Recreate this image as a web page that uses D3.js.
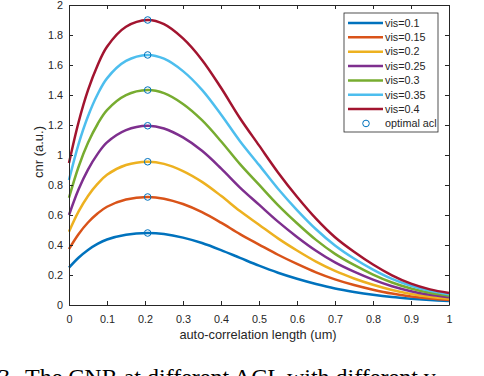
<!DOCTYPE html>
<html>
<head>
<meta charset="utf-8">
<script src="https://cdn.jsdelivr.net/npm/d3@7/dist/d3.min.js"></script>
<style>
	html, body { margin: 0; padding: 0; background: #fff; }
	svg { display: block; font-family: "Liberation Sans", Arial, sans-serif; }
	.axis path, .axis line { stroke: #262626; }
	.axis text { fill: #262626; font-size: 10.8px; }
</style>
</head>
<body>
<div class="chart"></div>
<script>
// acl sample positions (um)
var acl = [0, 0.025, 0.05, 0.075, 0.1, 0.15, 0.207, 0.25, 0.3, 0.35, 0.4, 0.45, 0.5, 0.55, 0.6, 0.65, 0.7, 0.75, 0.8, 0.85, 0.9, 0.95, 1];

var seriesNames = ['vis=0.1', 'vis=0.15', 'vis=0.2', 'vis=0.25', 'vis=0.3', 'vis=0.35', 'vis=0.4'];

// cnr, one list per visibility
var cnr01 = [0.249, 0.315, 0.367, 0.407, 0.437, 0.469, 0.480, 0.473, 0.449, 0.413, 0.366, 0.314, 0.262, 0.215, 0.175, 0.140, 0.110, 0.087, 0.068, 0.053, 0.042, 0.033, 0.026];
var cnr015 = [0.373, 0.472, 0.550, 0.610, 0.655, 0.703, 0.720, 0.709, 0.673, 0.619, 0.549, 0.472, 0.403, 0.335, 0.274, 0.218, 0.171, 0.133, 0.102, 0.076, 0.057, 0.043, 0.033];
var cnr02 = [0.489, 0.622, 0.727, 0.807, 0.868, 0.933, 0.955, 0.941, 0.893, 0.821, 0.728, 0.626, 0.535, 0.444, 0.363, 0.289, 0.227, 0.177, 0.135, 0.100, 0.074, 0.055, 0.042];
var cnr025 = [0.600, 0.770, 0.903, 1.006, 1.084, 1.166, 1.195, 1.177, 1.117, 1.028, 0.911, 0.783, 0.669, 0.556, 0.454, 0.362, 0.284, 0.222, 0.169, 0.125, 0.092, 0.068, 0.052];
var cnr03 = [0.715, 0.920, 1.081, 1.205, 1.299, 1.399, 1.433, 1.412, 1.340, 1.232, 1.092, 0.939, 0.802, 0.666, 0.545, 0.434, 0.341, 0.267, 0.203, 0.150, 0.110, 0.081, 0.062];
var cnr035 = [0.833, 1.071, 1.258, 1.403, 1.511, 1.627, 1.667, 1.642, 1.559, 1.434, 1.270, 1.092, 0.934, 0.775, 0.633, 0.505, 0.397, 0.310, 0.236, 0.174, 0.128, 0.094, 0.072];
var cnr04 = [0.947, 1.217, 1.432, 1.597, 1.722, 1.855, 1.900, 1.872, 1.777, 1.634, 1.448, 1.245, 1.064, 0.884, 0.722, 0.576, 0.452, 0.355, 0.270, 0.198, 0.142, 0.104, 0.080];

// optimal acl markers
var optAcl = [0.207, 0.207, 0.207, 0.207, 0.207, 0.207, 0.207];
var optCnr = [0.480, 0.720, 0.955, 1.195, 1.433, 1.667, 1.900];

var xTicks = [0, 0.1, 0.2, 0.3, 0.4, 0.5, 0.6, 0.7, 0.8, 0.9, 1];
var yTicks = [0, 0.2, 0.4, 0.6, 0.8, 1, 1.2, 1.4, 1.6, 1.8, 2];

var chart = (function(d3, undefined) {
	var width = 484,
	    height = 376,
	    plot = { left: 69, right: 449, top: 5, bottom: 305 };

	var colors = ['#0072BD', '#D95319', '#EDB120', '#7E2F8E', '#77AC30', '#4DBEEE', '#A2142F'],
	    axisColor = '#262626';

	var series = [cnr01, cnr015, cnr02, cnr025, cnr03, cnr035, cnr04];

	var x = d3.scaleLinear().domain([0, 1]).range([plot.left, plot.right]);
	var y = d3.scaleLinear().domain([0, 2]).range([plot.bottom, plot.top]);

	var fmt = function(d) { return String(+d.toFixed(1)); };

	var svg = d3.select('.chart').append('svg')
		.attr('width', width)
		.attr('height', height);

	svg.append('rect')
		.attr('width', width)
		.attr('height', height)
		.attr('fill', '#fff');

	// curves
	var line = d3.line()
		.x(function(d, i) { return x(acl[i]); })
		.y(function(d) { return y(d); })
		.curve(d3.curveCatmullRom.alpha(0.5));

	svg.append('g').selectAll('path')
		.data(series)
		.enter().append('path')
		.attr('d', line)
		.attr('fill', 'none')
		.attr('stroke', function(d, i) { return colors[i]; })
		.attr('stroke-width', 2.5);

	// optimal acl circles
	svg.append('g').selectAll('circle')
		.data(optCnr)
		.enter().append('circle')
		.attr('cx', function(d, i) { return x(optAcl[i]); })
		.attr('cy', function(d) { return y(d); })
		.attr('r', 3.3)
		.attr('fill', 'none')
		.attr('stroke', '#0072BD')
		.attr('stroke-width', 1);

	// box axes, ticks point inward
	svg.append('g')
		.attr('class', 'axis')
		.attr('transform', 'translate(0,' + plot.bottom + ')')
		.call(d3.axisBottom(x).tickValues(xTicks).tickFormat(fmt).tickSizeInner(-4).tickSizeOuter(0).tickPadding(10));
	svg.append('g')
		.attr('class', 'axis')
		.attr('transform', 'translate(0,' + plot.top + ')')
		.call(d3.axisTop(x).tickValues(xTicks).tickFormat('').tickSizeInner(-4).tickSizeOuter(0));
	svg.append('g')
		.attr('class', 'axis')
		.attr('transform', 'translate(' + plot.left + ',0)')
		.call(d3.axisLeft(y).tickValues(yTicks).tickFormat(fmt).tickSizeInner(-4).tickSizeOuter(0).tickPadding(6));
	svg.append('g')
		.attr('class', 'axis')
		.attr('transform', 'translate(' + plot.right + ',0)')
		.call(d3.axisRight(y).tickValues(yTicks).tickFormat('').tickSizeInner(-4).tickSizeOuter(0));

	// axis titles
	svg.append('text')
		.attr('x', (plot.left + plot.right) / 2 - 1)
		.attr('y', 339)
		.attr('text-anchor', 'middle')
		.attr('fill', axisColor)
		.style('font-size', '12.8px')
		.text('auto-correlation length (um)');
	svg.append('text')
		.attr('transform', 'translate(43,152) rotate(-90)')
		.attr('text-anchor', 'middle')
		.attr('fill', axisColor)
		.style('font-size', '13px')
		.text('cnr (a.u.)');

	// legend
	var legend = svg.append('g').attr('transform', 'translate(344,13)');
	legend.append('rect')
		.attr('width', 94)
		.attr('height', 119)
		.attr('fill', '#fff')
		.attr('stroke', axisColor)
		.attr('stroke-width', 0.8);

	var rowY = function(i) { return 10 + i * 14.35; };

	var entries = legend.selectAll('.entry')
		.data(seriesNames.concat(['optimal acl']))
		.enter().append('g')
		.attr('class', 'entry')
		.attr('transform', function(d, i) { return 'translate(0,' + rowY(i) + ')'; });

	entries.filter(function(d, i) { return i < seriesNames.length; })
		.append('line')
		.attr('x1', 4)
		.attr('x2', 39)
		.attr('stroke', function(d, i) { return colors[i]; })
		.attr('stroke-width', 2.5);
	entries.filter(function(d, i) { return i === seriesNames.length; })
		.append('circle')
		.attr('cx', 22)
		.attr('r', 3.3)
		.attr('fill', 'none')
		.attr('stroke', '#0072BD');
	entries.append('text')
		.attr('x', 41)
		.attr('dy', '0.35em')
		.attr('fill', axisColor)
		.style('font-size', '10.8px')
		.text(function(d) { return d; });

	// clipped caption under the figure
	var caption = svg.append('text')
		.attr('y', 385)
		.attr('fill', '#000')
		.style('font-family', '"Liberation Serif", "Times New Roman", serif')
		.style('font-size', '24px');
	caption.append('tspan').attr('x', 10).attr('text-anchor', 'end').text('3');
	caption.append('tspan').attr('x', 25).text('The CNR at different ACL with different v');

	return svg;
})(d3);
</script>
</body>
</html>
